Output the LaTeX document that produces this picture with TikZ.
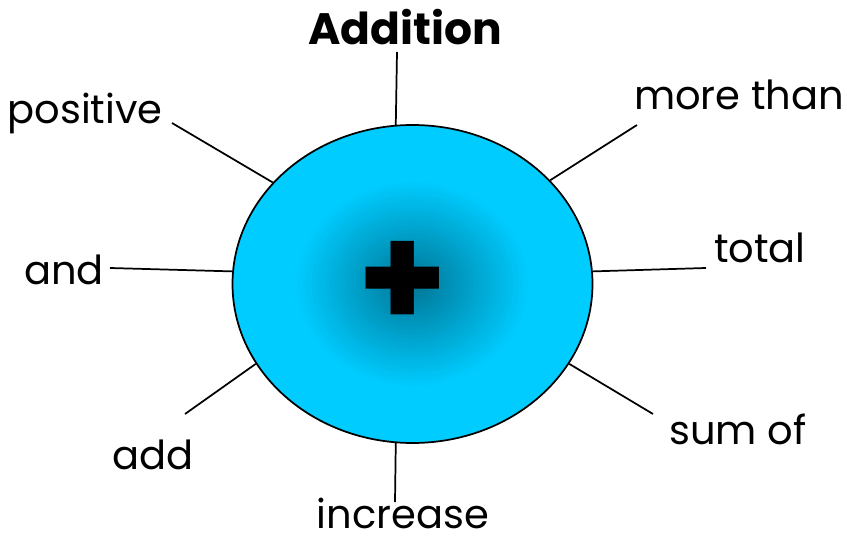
\documentclass[tikz,border=0pt]{standalone}
\usepackage{fontspec}
\setmainfont{Poppins}
\definecolor{ballcyan}{RGB}{0,204,255}
\definecolor{balldeep}{RGB}{0,118,150}
\usetikzlibrary{shapes.geometric,positioning}

\begin{document}
\begin{tikzpicture}[x=0.75pt,y=-0.75pt,
    word/.style={font=\fontsize{30}{36}\selectfont, inner sep=0pt, anchor=base},
    spoke/.style={line width=1.3pt}]
\useasboundingbox (0,0) rectangle (847,541);

\node[ellipse, draw, line width=1.3pt, fill=ballcyan, minimum width=270pt, minimum height=238.5pt, inner sep=0pt] (ball) at (412.5,284) {};
\foreach \k in {0,...,39}{
  \pgfmathsetmacro{\rx}{180*0.64*(1-\k/40)}
  \pgfmathsetmacro{\ry}{159*0.64*(1-\k/40)}
  \pgfmathtruncatemacro{\p}{100*(\k+1)/40}
  \fill[balldeep!\p!ballcyan] (ball.center) ellipse [x radius=\rx, y radius=\ry];
}
\node[font=\fontsize{108}{108}\bfseries\selectfont, inner sep=0pt] (plus) at (403,285) {+};

\node[word, font=\fontsize{33}{40}\bfseries\selectfont] (addition) at (405,45) {Addition};
\node[word] (positive) at (85,124) {positive};
\node[word] (and) at (64,285) {and};
\node[word] (add) at (153,470) {add};
\node[word] (increase) at (403,529) {increase};
\node[word] (morethan) at (739,110) {more than};
\node[word] (total) at (760,263) {total};
\node[word] (sumof) at (738,445) {sum of};

\coordinate (addend) at (397,52);
\coordinate (posend) at (172,123);
\coordinate (andend) at (110,268);
\coordinate (addwend) at (185,414);
\coordinate (incend) at (395,502);
\coordinate (moreend) at (637,125);
\coordinate (totend) at (706,268);
\coordinate (sumend) at (653,414);

\draw[spoke] (addend) -- (ball.96);
\draw[spoke] (posend) -- (ball.144);
\draw[spoke] (andend) -- (ball.176);
\draw[spoke] (addwend) -- (ball.207);
\draw[spoke] (incend) -- (ball.264);
\draw[spoke] (moreend) -- (ball.37);
\draw[spoke] (totend) -- (ball.4);
\draw[spoke] (sumend) -- (ball.-27);
\end{tikzpicture}
\end{document}
